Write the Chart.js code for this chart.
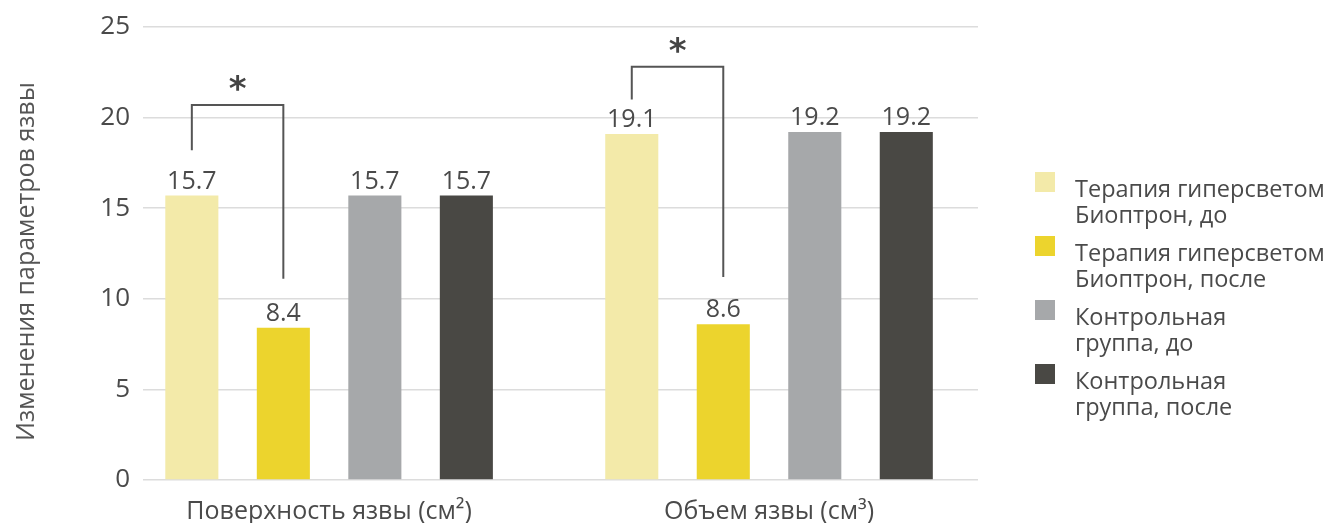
<!DOCTYPE html>
<html>
<head>
<meta charset="utf-8">
<script src="https://cdn.jsdelivr.net/npm/chart.js@4"></script>
<style>
  html, body { margin: 0; padding: 0; background: #fff; }
  #wrap { width: 1337px; height: 523px; }
</style>
</head>
<body>
<div id="wrap"><canvas id="ulcerChart" width="1337" height="523"></canvas></div>
<script>
// === Data ===
const categories = ["Поверхность язвы (см²)", "Объем язвы (см³)"];
const seriesNames = [
  ["Терапия гиперсветом", "Биоптрон, до"],
  ["Терапия гиперсветом", "Биоптрон, после"],
  ["Контрольная", "группа, до"],
  ["Контрольная", "группа, после"],
];
const bioptronBefore = [15.7, 19.1];
const bioptronAfter = [8.4, 8.6];
const controlBefore = [15.7, 19.2];
const controlAfter = [15.7, 19.2];
const yTicks = [0, 5, 10, 15, 20, 25];
const yTitle = "Изменения параметров язвы";

// significance brackets: group, top / left end / right end (in axis units)
const bracketGroups = [0, 1];
const bracketTop = [20.7, 22.8];
const bracketLeftEnd = [18.2, 21.0];
const bracketRightEnd = [11.1, 11.2];

const colors = ["#f3eaa9", "#ecd42d", "#a6a8aa", "#494844"];
const textColor = "#4a4a4a";
const fontFamily = "'Open Sans', 'DejaVu Sans', sans-serif";

const allSeries = [bioptronBefore, bioptronAfter, controlBefore, controlAfter];

// === Plugins ===
const valueLabels = {
  id: "valueLabels",
  afterDatasetsDraw(chart) {
    const ctx = chart.ctx;
    ctx.save();
    ctx.font = "25px " + fontFamily;
    ctx.fillStyle = textColor;
    ctx.textAlign = "center";
    ctx.textBaseline = "alphabetic";
    chart.data.datasets.forEach((ds, i) => {
      chart.getDatasetMeta(i).data.forEach((bar, j) => {
        ctx.fillText(allSeries[i][j].toFixed(1), bar.x, bar.y - 7);
      });
    });
    ctx.restore();
  },
};

const brackets = {
  id: "brackets",
  afterDatasetsDraw(chart) {
    const ctx = chart.ctx;
    const y = chart.scales.y;
    ctx.save();
    ctx.strokeStyle = "#555";
    ctx.lineWidth = 2;
    bracketGroups.forEach((g, k) => {
      const x1 = chart.getDatasetMeta(0).data[g].x;
      const x2 = chart.getDatasetMeta(1).data[g].x;
      const top = y.getPixelForValue(bracketTop[k]);
      ctx.beginPath();
      ctx.moveTo(x1, y.getPixelForValue(bracketLeftEnd[k]));
      ctx.lineTo(x1, top);
      ctx.lineTo(x2, top);
      ctx.lineTo(x2, y.getPixelForValue(bracketRightEnd[k]));
      ctx.stroke();
      ctx.fillStyle = "#444";
      ctx.font = "bold 34px 'DejaVu Sans', sans-serif";
      ctx.textAlign = "center";
      ctx.textBaseline = "middle";
      ctx.fillText("*", (x1 + x2) / 2, top - 14);
    });
    ctx.restore();
  },
};

const sideLegend = {
  id: "sideLegend",
  afterDraw(chart) {
    const ctx = chart.ctx;
    const x0 = chart.chartArea.right + 57;
    ctx.save();
    ctx.font = "23.5px " + fontFamily;
    ctx.textBaseline = "alphabetic";
    ctx.textAlign = "left";
    seriesNames.forEach((lines, i) => {
      const top = 172 + i * 64;
      ctx.fillStyle = colors[i];
      ctx.fillRect(x0, top, 20, 20);
      ctx.fillStyle = textColor;
      lines.forEach((line, l) => {
        ctx.fillText(line, x0 + 40, top + 25 + l * 26);
      });
    });
    ctx.restore();
  },
};

// y axis title, drawn by hand so it can sit a little below the plot centre
const axisTitle = {
  id: "axisTitle",
  afterDraw(chart) {
    const ctx = chart.ctx;
    const area = chart.chartArea;
    ctx.save();
    ctx.translate(27, (area.top + area.bottom) / 2 + 8);
    ctx.rotate(-Math.PI / 2);
    ctx.font = "25px " + fontFamily;
    ctx.fillStyle = "#555";
    ctx.textAlign = "center";
    ctx.textBaseline = "middle";
    ctx.fillText(yTitle, 0, 0);
    ctx.restore();
  },
};

// === Chart ===
const ctx = document.getElementById("ulcerChart").getContext("2d");
new Chart(ctx, {
  type: "bar",
  data: {
    datasets: allSeries.map((vals, i) => ({
      label: seriesNames[i].join(" "),
      data: vals.map((v, j) => ({ x: j, y: v })),
      backgroundColor: colors[i],
      borderWidth: 0,
      categoryPercentage: 0.832,
      barPercentage: 0.58,
    })),
  },
  options: {
    responsive: false,
    animation: false,
    layout: { padding: { top: 27, right: 359, left: 0, bottom: 0 } },
    plugins: {
      legend: { display: false },
      tooltip: { enabled: false },
    },
    scales: {
      x: {
        type: "linear",
        offset: false,
        min: -0.423,
        max: 1.475,
        grid: { display: false, drawTicks: false, offset: false },
        border: { display: false },
        afterBuildTicks: (s) => { s.ticks = categories.map((c, i) => ({ value: i })); },
        afterFit: (s) => { s.height = 43; s.paddingLeft = 0; s.paddingRight = 0; },
        ticks: {
          callback: (v) => categories[v],
          color: textColor,
          font: { family: fontFamily, size: 25 },
          padding: 17,
          maxRotation: 0,
          autoSkip: false,
        },
      },
      y: {
        min: 0,
        max: 25,
        afterBuildTicks: (s) => { s.ticks = yTicks.map((v) => ({ value: v })); },
        afterFit: (s) => { s.width = 143; s.paddingTop = 0; s.paddingBottom = 0; },
        grid: { color: "#dcdcdc", lineWidth: 1.5, drawTicks: false },
        border: { display: false },
        ticks: {
          color: textColor,
          font: { family: fontFamily, size: 26 },
          padding: 13,
        },
      },
    },
  },
  plugins: [valueLabels, brackets, sideLegend, axisTitle],
});
</script>
</body>
</html>
